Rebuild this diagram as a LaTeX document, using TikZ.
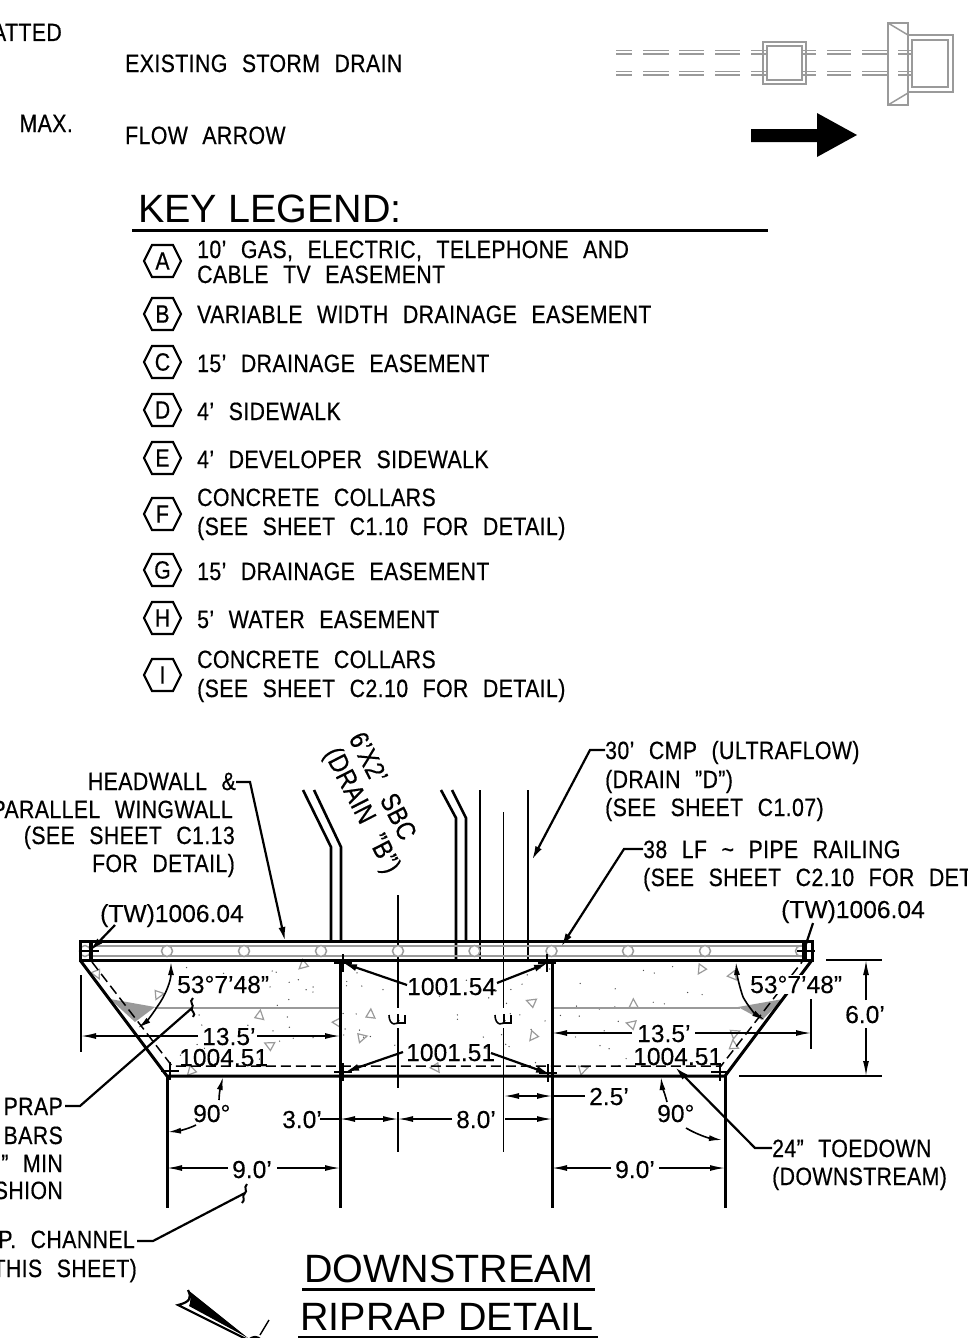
\documentclass[tikz,border=0pt]{standalone}
\usepackage{fontspec}
\usetikzlibrary{arrows.meta}
\setmainfont{Liberation Sans}
\newfontfamily\cadf[FakeStretch=.85,WordSpace=2.3,LetterSpace=1.7,FakeBold=.5]{Liberation Sans}
\newfontfamily\numf[FakeBold=.2]{Liberation Sans}
\newfontfamily\bigf{Liberation Sans}
\definecolor{cadgray}{HTML}{9A9A9A}
\tikzset{
  lab/.style={font=\cadf\fontsize{25}{25}\selectfont,inner sep=0pt,anchor=base west,text=black},
  labe/.style={lab,anchor=base east},
  num/.style={font=\numf\fontsize{24.6}{25}\selectfont,inner sep=0pt,anchor=base west,text=black},
  bigt/.style={font=\bigf\fontsize{39.5}{40}\selectfont,inner sep=0pt,anchor=base west,text=black},
  heavy/.style={line width=3pt,black},
  med/.style={line width=2.2pt,black},
  fine/.style={line width=1.4pt,black},
  symb/.style={line width=1.5pt,cadgray},
  leader/.style={line width=2.2pt,black,-{Latex[length=14pt,width=7pt]}},
  dimn/.style={line width=1.4pt,black,{Latex[length=15pt,width=6pt]}-{Latex[length=15pt,width=6pt]}},
  dimr/.style={line width=1.4pt,black,-{Latex[length=15pt,width=6pt]}},
  angl/.style={line width=1.6pt,black,-{Latex[length=13pt,width=6pt]}},
  hexa/.style={line width=2.2pt,black},
  hexl/.style={font=\cadf\fontsize{25}{25}\selectfont,inner sep=0pt,text=black},
  tick/.style={line width=2.6pt,black},
  squig/.style={line width=2pt,black},
}
\newcommand{\hexkey}[3]{%
  \draw[hexa] (144,#2) -- (152,#2-16) -- (173,#2-16) -- (181,#2) -- (173,#2+16) -- (152,#2+16) -- cycle;
  \node[hexl] (#1) at (162.5,#2) {#3};}
\newcommand{\crossmark}[2]{\draw[tick] (#1-9,#2) -- (#1+9,#2) (#1,#2-9) -- (#1,#2+9);}
\begin{document}
\begin{tikzpicture}[x=1pt,y=-1pt]
\path[use as bounding box,clip] (0,0) rectangle (968,1338);

% top legend
\node[labe] (t1) at (62,41) {ATTED};
\node[lab] (t2) at (125,72) {EXISTING STORM DRAIN};
\node[labe] (t3) at (73,132) {MAX.};
\node[lab] (t4) at (125,144) {FLOW ARROW};

% storm drain symbol
\foreach \yy in {50.5,54,71.5,75}{
  \foreach \xa/\xb in {616/632,643/669,679/704,715/740,751/767,802/816,827/851,862/888,898/912}{
    \draw[symb] (\xa,\yy) -- (\xb,\yy);}}
\draw[symb] (763,42) rectangle (806,84);
\draw[symb] (767,46) rectangle (802,80);
\draw[symb] (888,23) rectangle (908,105);
\draw[symb] (888,23) -- (908,35) (888,105) -- (908,93);
\draw[symb] (908,35) -- (953,35) -- (953,92) -- (908,92);
\draw[symb] (912,40) rectangle (948,87);

% flow arrow
\fill[black] (751,129) -- (817,129) -- (817,113) -- (857,135) -- (817,157) -- (817,142) -- (751,142) -- cycle;

% key legend
\node[bigt] (kl) at (138,222) {KEY LEGEND:};
\draw[line width=3pt] (132,230) -- (768,230);
\hexkey{ka}{261}{A}
\hexkey{kb}{314}{B}
\hexkey{kc}{362}{C}
\hexkey{kd}{410}{D}
\hexkey{ke}{458}{E}
\hexkey{kf}{514}{F}
\hexkey{kg}{570}{G}
\hexkey{kh}{618}{H}
\hexkey{ki}{675}{I}
\node[lab] (a1) at (197,258) {10’ GAS, ELECTRIC, TELEPHONE AND};
\node[lab] (a2) at (197,283) {CABLE TV EASEMENT};
\node[lab] (b1) at (197,323) {VARIABLE WIDTH DRAINAGE EASEMENT};
\node[lab] (c1) at (197,372) {15’ DRAINAGE EASEMENT};
\node[lab] (d1) at (197,420) {4’ SIDEWALK};
\node[lab] (e1) at (197,468) {4’ DEVELOPER SIDEWALK};
\node[lab] (f1) at (197,506) {CONCRETE COLLARS};
\node[lab] (f2) at (197,535) {(SEE SHEET C1.10 FOR DETAIL)};
\node[lab] (g1) at (197,580) {15’ DRAINAGE EASEMENT};
\node[lab] (h1) at (197,628) {5’ WATER EASEMENT};
\node[lab] (i1) at (197,668) {CONCRETE COLLARS};
\node[lab] (i2) at (197,697) {(SEE SHEET C2.10 FOR DETAIL)};

% riprap stipple: triangles
\foreach \tx/\ty [count=\ti] in {304/965,97/973,158/994,259/1016,270/1046,192/1071,338/1022,361/1037,370/1015,532/1003,534/1036,436/1067,582/1069,633/1005,632/1025,702/969,733/975,734/1033,733/1046}{
  \draw[symb,line width=1.2pt,rotate around={\ti*73:(\tx,\ty)}] (\tx-5,\ty-3.5) -- (\tx+5,\ty-3) -- (\tx,\ty+4.5) -- cycle;}
\pgfmathsetseed{11}
\foreach \i in {1,...,90}{
  \pgfmathsetmacro{\dx}{180+rnd*540}
  \pgfmathsetmacro{\dy}{966+rnd*102}
  \fill[black!70] (\dx,\dy) circle[radius=.7pt];}

% pipes above the headwall
\draw[heavy,line width=2.6pt] (303,790) -- (331,847) -- (331,941);
\draw[heavy,line width=2.6pt] (314,790) -- (341,847) -- (341,941);
\draw[heavy,line width=2.6pt] (441,790) -- (456,818) -- (456,960);
\draw[heavy,line width=2.6pt] (452,790) -- (466,818) -- (466,941);
\draw[fine] (480,790) -- (480,960);
\draw[fine] (528,790) -- (528,960);
\draw[fine] (503.5,812) -- (503.5,1008) (503.5,1028) -- (503.5,1152);
\draw[fine] (398,895) -- (398,1008) (398,1028) -- (398,1088) (398,1112) -- (398,1152);

% headwall
\draw[symb] (91,946) -- (803,946) (91,956) -- (803,956);
\foreach \cx in {167,244,321,398,474.5,551.5,628,705}{
  \draw[symb,fill=white] (\cx,951) circle[radius=5.5pt];}
\draw[symb] (85,951) circle[radius=5.5pt] (801,951) circle[radius=5.5pt];
\draw[heavy] (80,941) rectangle (812,960);
\draw[heavy] (91,941) -- (91,960) (803,941) -- (803,960);

% gray section lines and wedges
\draw[symb] (155,1008) -- (339,1008) (553,1008) -- (740,1008);
\fill[cadgray] (110,999) -- (155,1007) -- (135,1022) -- cycle;
\fill[cadgray] (738,1007) -- (783,999) -- (762,1020) -- cycle;

% riprap outline
\draw[line width=1.5pt,dash pattern=on 10pt off 5pt] (92,962) -- (172,1066) -- (721,1066) -- (802,962);
\draw[heavy] (80,960) -- (167,1076) -- (725,1076) -- (812,960);
\draw[heavy] (167,1076) -- (167,1208) (340,960) -- (340,1208) (552,960) -- (552,1208) (725,1076) -- (725,1208);

% elevation crosses
\crossmark{90}{951}
\crossmark{806}{951}
\crossmark{343}{963}
\crossmark{547}{963}
\crossmark{343}{1072}
\crossmark{548}{1073}
\crossmark{170}{1071}
\crossmark{720}{1072}

% centerline marks
\foreach \cl in {398,504}{
  \draw[line width=1.6pt] (\cl-9,1015) .. controls (\cl-9,1026) and (\cl,1026) .. (\cl+1,1020);
  \draw[line width=1.6pt] (\cl,1014) -- (\cl,1023) -- (\cl+7,1023) -- (\cl+7,1015);}

% dimensions
\draw[fine] (81,975) -- (81,1052) (811,999) -- (811,1049);
\draw[fine] (826,960) -- (882,960) (739,1076) -- (882,1076);
\coordinate (d13a) at (81,1036); \coordinate (d13b) at (198,1036);
\coordinate (d13c) at (257,1036); \coordinate (d13d) at (340,1036);
\draw[dimr] (d13b) -- (d13a);
\draw[dimr] (d13c) -- (d13d);
\node[num] (n13a) at (202,1045) {13.5’};
\coordinate (e13a) at (552,1033); \coordinate (e13b) at (632,1033);
\coordinate (e13c) at (695,1033); \coordinate (e13d) at (811,1033);
\draw[dimr] (e13b) -- (e13a);
\draw[dimr] (e13c) -- (e13d);
\node[num] (n13b) at (637,1042) {13.5’};
\coordinate (s1) at (866,1000); \coordinate (s2) at (866,960);
\coordinate (s3) at (866,1028); \coordinate (s4) at (866,1076);
\draw[dimr] (s1) -- (s2);
\draw[dimr] (s3) -- (s4);
\node[num] (n6) at (845,1023) {6.0’};
\coordinate (u1) at (340,1119); \coordinate (u2) at (398,1119); \coordinate (u0) at (320,1119);
\draw[dimn] (u1) -- (u2);
\draw[fine] (u0) -- (u1);
\node[num] (n3) at (282,1128) {3.0’};
\coordinate (u3) at (452,1119); \coordinate (u4) at (505,1119); \coordinate (u5) at (552,1119);
\draw[dimr] (u3) -- (u2);
\draw[dimr] (u4) -- (u5);
\node[num] (n8) at (456,1128) {8.0’};
\coordinate (v1) at (504,1096); \coordinate (v2) at (552,1096); \coordinate (v3) at (585,1096);
\draw[dimn] (v1) -- (v2);
\draw[fine] (v2) -- (v3);
\node[num] (n25) at (589,1105) {2.5’};
\coordinate (w1) at (167,1168); \coordinate (w2) at (228,1168);
\coordinate (w3) at (277,1168); \coordinate (w4) at (340,1168);
\draw[dimr] (w2) -- (w1);
\draw[dimr] (w3) -- (w4);
\node[num] (n9a) at (232,1178) {9.0’};
\coordinate (x1) at (552,1168); \coordinate (x2) at (611,1168);
\coordinate (x3) at (659,1168); \coordinate (x4) at (725,1168);
\draw[dimr] (x2) -- (x1);
\draw[dimr] (x3) -- (x4);
\node[num] (n9b) at (615,1178) {9.0’};

% angles
\draw[angl] (157,1007) .. controls (166,995) and (171,980) .. (171,962);
\draw[angl] (157,1007) .. controls (152,1015) and (146,1022) .. (138,1028);
\draw[angl] (743,997) .. controls (739,985) and (737,975) .. (736,962);
\draw[angl] (743,997) .. controls (748,1006) and (755,1014) .. (765,1020);
\draw[angl] (219,1100) .. controls (219,1093) and (221,1085) .. (223,1077);
\draw[angl] (196,1125) .. controls (188,1129) and (178,1131) .. (168,1132);
\draw[angl] (667,1102) .. controls (665,1094) and (662,1086) .. (661,1077);
\draw[angl] (686,1128) .. controls (696,1134) and (708,1138) .. (722,1140);
\node[num] (a90l) at (193,1122) {90°};
\node[num] (a90r) at (657,1122) {90°};
\node[num] (a53l) at (177,993) {53°7’48”};
\node[num,fill=white,inner sep=1pt] (a53r) at (749,993) {53°7’48”};

% elevations
\node[num] (ev1) at (179,1066) {1004.51};
\node[num] (ev2) at (633,1065) {1004.51};
\node[num] (ev3) at (407,995) {1001.54};
\node[num] (ev4) at (406,1061) {1001.51};
\coordinate (p1) at (343,963); \coordinate (p2) at (548,963);
\coordinate (p3) at (345,1072); \coordinate (p4) at (550,1074);
\draw[leader] (ev3.west |- 0,985) -- (p1);
\draw[leader] (497,983) -- (p2);
\draw[leader] (403,1052) -- (p3);
\draw[leader] (491,1053) -- (p4);

% callouts
\node[labe] (hw1) at (236,790) {HEADWALL \&};
\node[labe] (hw2) at (233,818) {PARALLEL WINGWALL};
\node[labe] (hw3) at (235,844) {(SEE SHEET C1.13};
\node[labe] (hw4) at (235,872) {FOR DETAIL)};
\coordinate (hwe) at (250,782); \coordinate (hwt) at (285,941);
\draw[leader] (hw1.east |- hwe) -- (hwe) -- (hwt);

\node[font=\cadf\fontsize{27}{27}\selectfont,inner sep=0pt,rotate=-63] (sb1) at (383,786) {6’X2’ SBC};
\node[font=\cadf\fontsize{27}{27}\selectfont,inner sep=0pt,rotate=-63] (sb2) at (361,811) {(DRAIN ”B”)};

\node[lab] (cm1) at (605,759) {30’ CMP (ULTRAFLOW)};
\node[lab] (cm2) at (605,788) {(DRAIN ”D”)};
\node[lab] (cm3) at (605,816) {(SEE SHEET C1.07)};
\coordinate (cme) at (590,750); \coordinate (cmt) at (532,860);
\draw[leader] (cm1.west |- cme) -- (cme) -- (cmt);

\node[lab] (pr1) at (643,858) {38 LF \char"007E\ PIPE RAILING};
\node[lab] (pr2) at (643,886) {(SEE SHEET C2.10 FOR DET};
\coordinate (pre) at (624,849); \coordinate (prt) at (561,947);
\draw[leader] (pr1.west |- pre) -- (pre) -- (prt);

\node[num] (tw1) at (100,922) {(TW)1006.04};
\node[num] (tw2) at (781,918) {(TW)1006.04};
\coordinate (tw1t) at (90,951); \coordinate (tw2t) at (806,944);
\coordinate (tw1s) at (115,925); \coordinate (tw2s) at (813,923);
\draw[leader] (tw1s) -- (tw1t);
\draw[med] (tw2s) -- (tw2t);

\node[lab] (td1) at (772,1157) {24” TOEDOWN};
\node[lab] (td2) at (772,1185) {(DOWNSTREAM)};
\coordinate (tde) at (755,1148); \coordinate (tdt) at (675,1067);
\draw[leader] (td1.west |- tde) -- (tde) -- (tdt);

\node[labe] (rp1) at (63,1115) {PRAP};
\node[labe] (rp2) at (63,1144) {BARS};
\node[labe] (rp3) at (63,1172) {” MIN};
\node[labe] (rp4) at (63,1199) {SHION};
\coordinate (rpe) at (80,1106); \coordinate (rps) at (65,1106); \coordinate (rpt) at (192,1008);
\draw[med] (rps) -- (rpe) -- (rpt);
\draw[squig] (193,998) .. controls (188,1002) and (195,1005) .. (192,1008) .. controls (190,1011) and (197,1013) .. (193,1017);

\node[labe] (ch1) at (135,1248) {P. CHANNEL};
\node[labe] (ch2) at (137,1277) {THIS SHEET)};
\coordinate (che) at (153,1241); \coordinate (chs) at (137,1241); \coordinate (cht) at (245,1193);
\draw[med] (chs) -- (che) -- (cht);
\draw[squig] (247,1184) .. controls (243,1188) and (248,1191) .. (245,1193) .. controls (241,1196) and (246,1200) .. (242,1203);

% title
\node[bigt] (ti1) at (304,1282) {DOWNSTREAM};
\draw[line width=3pt] (302,1289) -- (595,1289);
\node[bigt] (ti2) at (300,1330) {RIPRAP DETAIL};
\draw[line width=3pt] (298,1337) -- (598,1337);

% north arrow fragment
\fill[black] (188,1290) .. controls (191,1296) and (191,1302) .. (189,1306) -- (248,1338) -- cycle;
\draw[med] (188,1290) .. controls (192,1298) and (190,1302) .. (178,1305) -- (248,1340);
\draw[med] (255,1345) circle[radius=8pt];
\draw[fine] (269,1320) -- (260,1335);
\end{tikzpicture}
\end{document}
